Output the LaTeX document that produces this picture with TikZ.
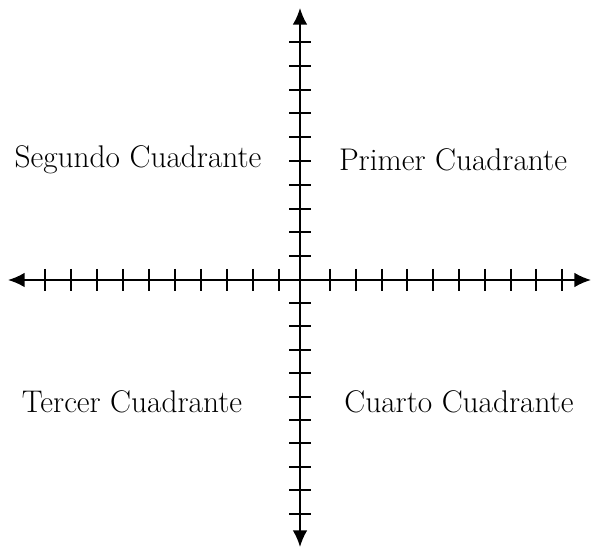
\documentclass[tikz,border=0pt]{standalone}
\usepackage{tikz}
\usetikzlibrary{arrows.meta}

\begin{document}
\begin{tikzpicture}[x=0.75pt,y=-0.75pt,>={Latex[length=12.5pt,width=11pt]},
  ax/.style={line width=1.4pt},
  q/.style={font=\fontsize{23.5}{28}\selectfont,inner sep=0pt}]
\useasboundingbox (0,0) rectangle (592,548);
% axes
\coordinate (xl) at (8,280); \coordinate (xr) at (591,280);
\coordinate (yt) at (300,8); \coordinate (yb) at (300,547);
\draw[ax,<->] (xl)--(xr);
\draw[ax,<->] (yt)--(yb);
\foreach \i in {0,...,9} {\draw[ax] ({45+26*\i},269)--({45+26*\i},291);}
\foreach \i in {0,...,9} {\draw[ax] ({330+25.8*\i},269)--({330+25.8*\i},291);}
\foreach \i in {0,...,9} {\draw[ax] (289,{42+23.8*\i})--(311,{42+23.8*\i});}
\foreach \i in {0,...,9} {\draw[ax] (289,{303+23.4*\i})--(311,{303+23.4*\i});}
% quadrants
\node[q] (q2) at (138,160) {Segundo Cuadrante};
\node[q] (q1) at (453,160) {Primer Cuadrante};
\node[q] (q3) at (132,402) {Tercer Cuadrante};
\node[q] (q4) at (459,402) {Cuarto Cuadrante};
\end{tikzpicture}
\end{document}
